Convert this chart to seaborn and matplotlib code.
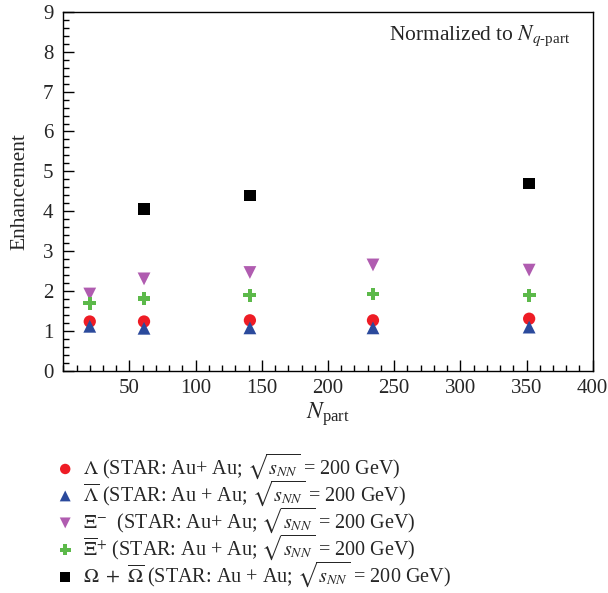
import matplotlib
matplotlib.use("Agg")
import matplotlib.pyplot as plt
import pandas as pd
import seaborn as sns
from matplotlib.ticker import MultipleLocator

# Data
npart = [20, 61, 141, 234, 352]
lam = [1.23, 1.23, 1.26, 1.26, 1.30]
lam_bar = [1.11, 1.06, 1.07, 1.07, 1.09]
xi_minus = [1.92, 2.30, 2.46, 2.65, 2.52]
xi_plus = [1.69, 1.81, 1.89, 1.92, 1.89]
npart_omega = [61, 141, 352]
omega = [4.05, 4.39, 4.69]

labels = [
    r"$\Lambda$ (STAR: Au+ Au; $\sqrt{s_{NN}}$ = 200 GeV)",
    r"$\overline{\Lambda}$ (STAR: Au + Au; $\sqrt{s_{NN}}$ = 200 GeV)",
    r"$\Xi^{-}$  (STAR: Au+ Au; $\sqrt{s_{NN}}$ = 200 GeV)",
    r"$\overline{\Xi}^{+}$ (STAR: Au + Au; $\sqrt{s_{NN}}$ = 200 GeV)",
    r"$\Omega\ +\ \overline{\Omega}$ (STAR: Au + Au; $\sqrt{s_{NN}}$ = 200 GeV)",
]

sns.set_style("ticks")
plt.rcParams["font.family"] = ["Liberation Serif", "DejaVu Serif"]
plt.rcParams["mathtext.fontset"] = "stix"

fig = plt.figure(figsize=(6.08, 5.93), dpi=100)
ax = fig.add_axes([0.1041, 0.3752, 0.8707, 0.6046])

series = [
    (npart, lam, "o", "#ee1c25", 78),
    (npart, lam_bar, "^", "#2b4a9c", 85),
    (npart, xi_minus, "v", "#b05cb0", 85),
    (npart, xi_plus, "P", "#5cb94a", 85),
    (npart_omega, omega, "s", "black", 70),
]
handles = []
for (x, y, m, c, s), lab in zip(series, labels):
    d = pd.DataFrame({"x": x, "y": y})
    sns.scatterplot(data=d, x="x", y="y", marker=m, color=c, s=s,
                    edgecolor="none", ax=ax, legend=False)
    handles.append(ax.collections[-1])

ax.set_xlim(0, 400)
ax.set_ylim(0, 9)
ax.xaxis.set_major_locator(MultipleLocator(50))
ax.xaxis.set_minor_locator(MultipleLocator(10))
ax.yaxis.set_major_locator(MultipleLocator(1))
ax.yaxis.set_minor_locator(MultipleLocator(0.2))
ax.set_xticks(range(50, 401, 50))
ax.tick_params(which="both", direction="in", top=False, right=False,
               labelsize=15, width=1, color="black")
ax.tick_params(which="major", length=8)
ax.tick_params(which="minor", length=4.5)
ax.tick_params(axis="x", pad=6)
ax.tick_params(axis="y", pad=7)
for sp in ax.spines.values():
    sp.set_linewidth(1)
    sp.set_color("black")

ax.set_xlabel(r"$N_{\mathregular{part}}$", fontsize=17, labelpad=2)
ax.set_ylabel("Enhancement", fontsize=15.5, labelpad=10)
ax.text(0.957, 0.967, r"Normalized to $N_{q\mathregular{\text{-}part}}$",
        transform=ax.transAxes, ha="right", va="top", fontsize=15.5)

fig.legend(handles=handles, labels=labels, loc="upper left",
           bbox_to_anchor=(0.094, 0.238), frameon=False, fontsize=14.5,
           handletextpad=0.5, labelspacing=-0.13, markerscale=0.85,
           handlelength=0.8, borderaxespad=0, borderpad=0)

fig.savefig("out.png", dpi=100)
